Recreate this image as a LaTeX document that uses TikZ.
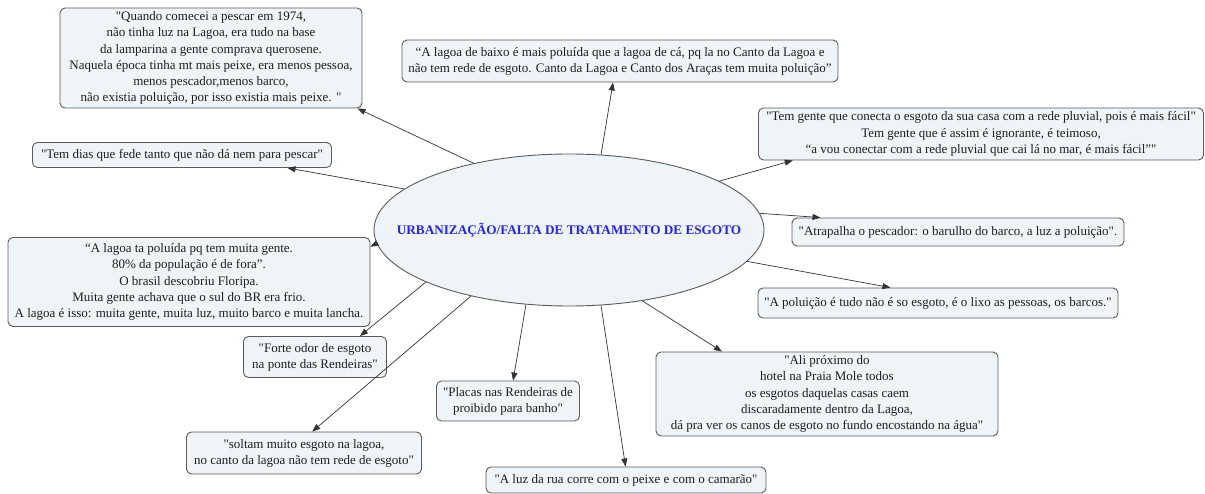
\documentclass[tikz,border=0pt]{standalone}
\usepackage{fontspec}
\setmainfont{Liberation Serif}[Ligatures=TeXOff]
\usetikzlibrary{arrows.meta,shapes.geometric}
\definecolor{boxfill}{HTML}{EEF4F7}
\definecolor{boxline}{HTML}{5A5A5A}
\definecolor{ttl}{HTML}{2424EE}
\definecolor{txt}{HTML}{1E1E1E}
\begin{document}
\begin{tikzpicture}[x=1pt,y=-1pt,
  quote/.style={draw=boxline, fill=boxfill, rounded corners=5pt, line width=0.9pt,
    align=center, inner sep=2pt, text=txt, font=\fontsize{13}{16.2}\selectfont},
  link/.style={draw=black!80, line width=0.7pt, -{Triangle[length=8pt,width=6pt]}}]
\useasboundingbox (0,0) rectangle (1205,494);

\node[ellipse, draw=boxline, fill=boxfill, line width=0.9pt, minimum width=390pt, minimum height=152pt, inner sep=0pt,
  label={[text=ttl, font=\fontsize{13.2}{15}\selectfont\bfseries]center:URBANIZAÇÃO/FALTA DE TRATAMENTO DE ESGOTO}] (c) at (569,230) {};

\node[quote, minimum width=302pt, minimum height=100pt] (b1) at (211,58)
 {"Quando comecei a pescar em 1974,\\ não tinha luz na Lagoa, era tudo na base\\ da lamparina a gente comprava querosene.\\ Naquela época tinha mt mais peixe, era menos pessoa,\\ menos pescador,menos barco,\\ não existia poluição, por isso existia mais peixe. "};
\node[quote, minimum width=436pt, minimum height=42pt] (b2) at (620,61)
 {“A lagoa de baixo é mais poluída que a lagoa de cá, pq la no Canto da Lagoa e\\ não tem rede de esgoto. Canto da Lagoa e Canto dos Araças tem muita poluição”};
\node[quote, minimum width=445pt, minimum height=52pt] (b3) at (981,134)
 {"Tem gente que conecta o esgoto da sua casa com a rede pluvial, pois é mais fácil"\\ Tem gente que é assim é ignorante, é teimoso,\\ “a vou conectar com a rede pluvial que cai lá no mar, é mais fácil”"};
\node[quote, minimum width=299pt, minimum height=25pt] (b4) at (182,155)
 {"Tem dias que fede tanto que não dá nem para pescar"};
\node[quote, minimum width=332pt, minimum height=28pt] (b5) at (958,232)
 {"Atrapalha o pescador: o barulho do barco, a luz a poluição".};
\node[quote, minimum width=360pt, minimum height=30pt] (b6) at (938,303)
 {"A poluição é tudo não é so esgoto, é o lixo as pessoas, os barcos."};
\node[quote, minimum width=362pt, minimum height=89pt] (b7) at (189,282)
 {“A lagoa ta poluída pq tem muita gente.\\ 80\% da população é de fora”.\\ O brasil descobriu Floripa.\\ Muita gente achava que o sul do BR era frio.\\ A lagoa é isso: muita gente, muita luz, muito barco e muita lancha.};
\node[quote, minimum width=143pt, minimum height=41pt] (b8) at (315,357)
 {"Forte odor de esgoto\\ na ponte das Rendeiras"};
\node[quote, minimum width=235pt, minimum height=42pt] (b9) at (304,453)
 {"soltam muito esgoto na lagoa,\\ no canto da lagoa não tem rede de esgoto"};
\node[quote, minimum width=143pt, minimum height=40pt] (b10) at (508,401)
 {"Placas nas Rendeiras de\\ proibido para banho"};
\node[quote, minimum width=342pt, minimum height=84pt] (b11) at (827,394)
 {"Ali próximo do\\ hotel na Praia Mole todos\\ os esgotos daquelas casas caem\\ discaradamente dentro da Lagoa,\\ dá pra ver os canos de esgoto no fundo encostando na água"};
\node[quote, minimum width=280pt, minimum height=26pt] (b12) at (626,480)
 {"A luz da rua corre com o peixe e com o camarão"};

\draw[link] (c.145) -- (b1.-19.8);
\draw[link] (c.67) -- (b2.-108);
\draw[link] (c.18) -- (b3.188);
\draw[link] (c.166) -- (b4.-7.6);
\draw[link] (c.5.4) -- (b5.174);
\draw[link] (c.-10) -- (b6.162.6);
\draw[link] (c.184) -- (b7.11);
\draw[link] (c.200) -- (b8.25);
\draw[link] (c.214.5) -- (b9.69);
\draw[link] (c.240.7) -- (b10.76);
\draw[link] (c.293) -- (b12.92);
\draw[link] (c.316) -- (b11.158.6);
\end{tikzpicture}
\end{document}
